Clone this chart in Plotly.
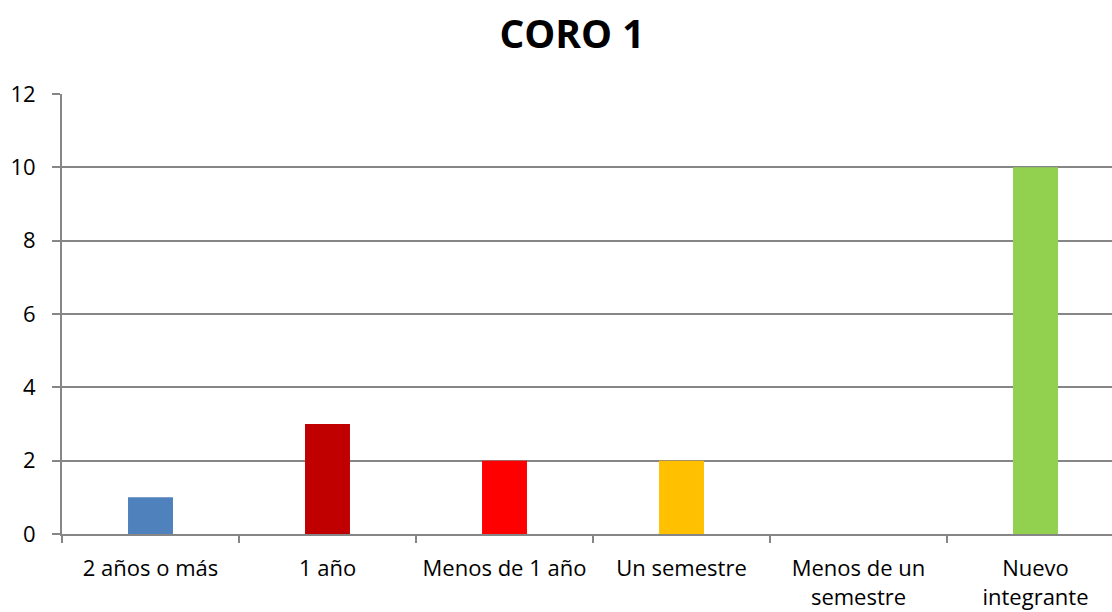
import plotly.graph_objects as go

categories = ["2 años o más", "1 año", "Menos de 1 año", "Un semestre", "Menos de un<br>semestre", "Nuevo<br>integrante"]
values = [1, 3, 2, 2, 0, 10]
bar_colors = ["#4F81BD", "#C00000", "#FF0000", "#FFC000", "#8064A2", "#92D050"]

GRID = "#868686"
FONT = "Open Sans, sans-serif"

fig = go.Figure(
    go.Bar(
        x=categories,
        y=values,
        marker={"color": bar_colors, "line": {"width": 0}},
        width=0.254,
        showlegend=False,
    )
)

fig.update_layout(
    width=1112,
    height=612,
    margin={"l": 62, "r": 0, "t": 94, "b": 78, "autoexpand": False},
    paper_bgcolor="white",
    plot_bgcolor="white",
    font={"family": FONT, "size": 22, "color": "#000000"},
    title={
        "text": "<b>CORO 1</b>",
        "x": 572 / 1112,
        "xanchor": "center",
        "y": 1 - 34 / 612,
        "yanchor": "middle",
        "font": {"family": FONT, "size": 39},
    },
)

fig.update_xaxes(
    type="category",
    range=[-0.5, -0.5 + (1112 - 62) / 177],
    tickson="boundaries",
    tickangle=0,
    ticks="outside",
    ticklen=7,
    tickwidth=2,
    tickcolor=GRID,
    showline=True,
    linecolor=GRID,
    linewidth=2,
    showgrid=False,
    ticklabelstandoff=14,
)

fig.update_yaxes(
    range=[0, 12],
    dtick=2,
    ticks="outside",
    ticklen=8,
    tickwidth=2,
    tickcolor=GRID,
    showline=True,
    linecolor=GRID,
    linewidth=2,
    showgrid=True,
    gridcolor=GRID,
    gridwidth=2,
    zeroline=False,
    ticklabelstandoff=12,
)

# drop the default page margin so the figure sits at the window's corner
fig.write_html(
    "out.html",
    config={"displayModeBar": False},
    post_script="document.body.style.margin = '0';",
)
